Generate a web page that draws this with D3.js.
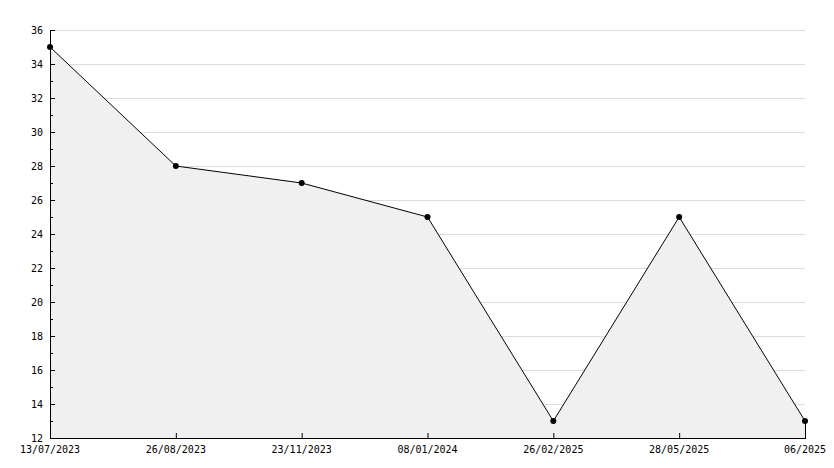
<!DOCTYPE html>
<html><head><meta charset="utf-8">
<script src="https://cdn.jsdelivr.net/npm/d3@7"></script>
<style>body{margin:0;background:#fff}svg{display:block}text{font-family:"DejaVu Sans Mono",monospace;font-size:10px;fill:#000}</style>
</head><body><svg id="c" width="834" height="468"></svg>
<script>
const categories = ["13/07/2023","26/08/2023","23/11/2023","08/01/2024","26/02/2025","28/05/2025","06/2025"];
const values = [35, 28, 27, 25, 13, 25, 13];
const yMajorTicks = [12,14,16,18,20,22,24,26,28,30,32,34,36];
const yMinorTicks = [13,15,17,19,21,23,25,27,29,31,33,35];

const svg = d3.select("#c");
const L = 50, R = 805, T = 30, B = 438;
const x = d3.scalePoint().domain(categories).range([L, R]);
const y = d3.scaleLinear().domain([12, 36]).range([B, T]);

// grid
svg.append("g").selectAll("line").data(yMajorTicks.filter(d => d > 12)).join("line")
  .attr("x1", L).attr("x2", R).attr("y1", d => y(d) + 0.5).attr("y2", d => y(d) + 0.5)
  .attr("stroke", "#dcdcdc").attr("stroke-width", 1);

// area
const area = d3.area().x((d, i) => x(categories[i])).y0(y(12)).y1(d => y(d));
svg.append("path").datum(values).attr("d", area).attr("fill", "#f0f0f0");
const line = d3.line().x((d, i) => x(categories[i])).y(d => y(d));
svg.append("path").datum(values).attr("d", line).attr("fill", "none").attr("stroke", "#000").attr("stroke-width", 1);
svg.append("line").attr("x1", R + 0.5).attr("x2", R + 0.5).attr("y1", y(values[values.length-1])).attr("y2", B)
  .attr("stroke", "#000");

// markers
svg.append("g").selectAll("circle").data(values).join("circle")
  .attr("cx", (d, i) => x(categories[i])).attr("cy", d => y(d)).attr("r", 3).attr("fill", "#000");

// y axis
const ya = svg.append("g");
ya.append("line").attr("x1", L + 0.5).attr("x2", L + 0.5).attr("y1", T).attr("y2", B + 1).attr("stroke", "#000");
ya.selectAll("line.maj").data(yMajorTicks).join("line").attr("class", "maj")
  .attr("x1", L).attr("x2", L + 5).attr("y1", d => y(d) + 0.5).attr("y2", d => y(d) + 0.5).attr("stroke", "#000");
ya.selectAll("line.min").data(yMinorTicks).join("line").attr("class", "min")
  .attr("x1", L).attr("x2", L + 3).attr("y1", d => y(d) + 0.5).attr("y2", d => y(d) + 0.5).attr("stroke", "#000");
ya.selectAll("text").data(yMajorTicks).join("text")
  .attr("x", L - 7).attr("y", d => y(d)).attr("dy", "0.35em").attr("text-anchor", "end").text(d => d);

// x axis
const xa = svg.append("g");
xa.append("line").attr("x1", L).attr("x2", R + 1).attr("y1", B + 0.5).attr("y2", B + 0.5).attr("stroke", "#000");
xa.selectAll("line.t").data(categories).join("line").attr("class", "t")
  .attr("x1", d => x(d) + 0.5).attr("x2", d => x(d) + 0.5).attr("y1", B).attr("y2", B - 5).attr("stroke", "#000");
xa.selectAll("text").data(categories).join("text")
  .attr("x", d => x(d)).attr("y", B + 15).attr("text-anchor", "middle").text(d => d);
</script></body></html>
